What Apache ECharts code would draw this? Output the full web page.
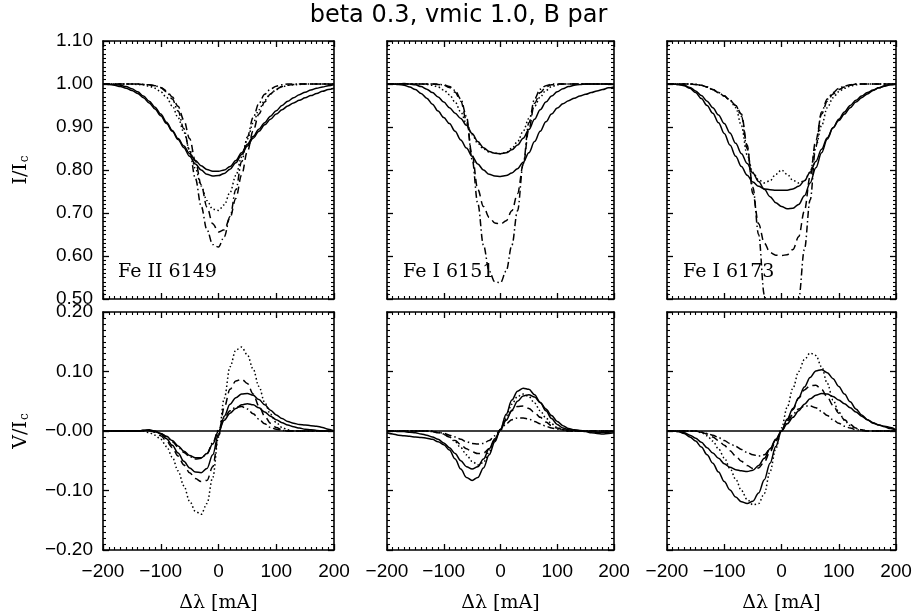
<!DOCTYPE html>
<html>
<head>
<meta charset="utf-8">
<script src="https://cdn.jsdelivr.net/npm/echarts@6/dist/echarts.min.js"></script>
<style>html,body{margin:0;padding:0;background:#fff}#c{width:917px;height:614px}</style>
</head>
<body>
<div id="c"></div>
<script>
// wavelength offsets (mA)
const lam = [-200,-190,-180,-170,-160,-150,-140,-130,-120,-110,-100,-90,-80,-70,-60,-50,-40,-30,-20,-10,0,10,20,30,40,50,60,70,80,90,100,110,120,130,140,150,160,170,180,190,200];

const xTickLabels = ['\u2212200','\u2212100','0','100','200'];
const iTickLabels = ['0.50','0.60','0.70','0.80','0.90','1.00','1.10'];
const vTickLabels = ['\u22120.20','\u22120.10','\u22120.00','0.10','0.20'];
const panelNames = ['Fe II 6149','Fe I 6151','Fe I 6173'];

// ---- Fe II 6149, I/Ic ----
const i6149_s1 = [1.000,1.000,0.999,0.997,0.994,0.989,0.982,0.972,0.960,0.946,0.930,0.911,0.892,0.873,0.856,0.838,0.822,0.810,0.801,0.797,0.797,0.800,0.808,0.822,0.840,0.860,0.878,0.895,0.910,0.925,0.938,0.950,0.960,0.968,0.975,0.981,0.986,0.990,0.993,0.996,0.999];
const i6149_s2 = [1.000,0.999,0.997,0.994,0.990,0.985,0.978,0.968,0.956,0.942,0.926,0.908,0.890,0.871,0.852,0.832,0.814,0.800,0.790,0.786,0.787,0.792,0.802,0.817,0.836,0.856,0.874,0.890,0.905,0.918,0.930,0.940,0.949,0.956,0.962,0.968,0.973,0.978,0.983,0.987,0.990];
const i6149_dot = [1.000,1.000,1.000,1.000,1.000,1.000,0.999,0.998,0.995,0.990,0.982,0.969,0.949,0.922,0.888,0.847,0.804,0.763,0.729,0.709,0.706,0.719,0.748,0.787,0.830,0.872,0.909,0.940,0.962,0.977,0.987,0.993,0.997,0.998,0.999,1.000,1.000,1.000,1.000,1.000,1.000];
const i6149_dash = [1.000,1.000,1.000,1.000,1.000,1.000,1.000,0.999,0.998,0.996,0.992,0.984,0.970,0.948,0.916,0.873,0.821,0.766,0.714,0.675,0.656,0.661,0.689,0.734,0.788,0.843,0.891,0.930,0.958,0.977,0.988,0.994,0.997,0.999,1.000,1.000,1.000,1.000,1.000,1.000,1.000];
const i6149_dd = [1.000,1.000,1.000,1.000,1.000,1.000,1.000,0.999,0.998,0.996,0.991,0.982,0.965,0.937,0.896,0.843,0.780,0.716,0.661,0.627,0.621,0.645,0.692,0.754,0.819,0.877,0.922,0.955,0.976,0.988,0.995,0.998,1.000,1.000,1.000,1.000,1.000,1.000,1.000,1.000,1.000];

// ---- Fe I 6151, I/Ic ----
const i6151_s1 = [1.000,1.000,1.000,1.001,1.000,0.998,0.994,0.988,0.980,0.970,0.958,0.945,0.932,0.920,0.904,0.885,0.866,0.852,0.843,0.839,0.838,0.840,0.847,0.858,0.874,0.894,0.918,0.940,0.958,0.972,0.982,0.989,0.994,0.997,0.999,1.000,1.000,1.000,1.000,1.000,1.000];
const i6151_s2 = [1.000,1.000,0.999,0.997,0.993,0.987,0.978,0.967,0.953,0.937,0.922,0.908,0.890,0.870,0.851,0.832,0.814,0.800,0.790,0.786,0.785,0.787,0.793,0.803,0.818,0.840,0.866,0.890,0.912,0.930,0.944,0.954,0.961,0.967,0.972,0.976,0.980,0.984,0.987,0.991,0.993];
const i6151_dot = [1.000,1.000,1.000,1.000,1.000,1.000,1.000,0.999,0.997,0.993,0.986,0.975,0.958,0.935,0.908,0.882,0.862,0.849,0.842,0.839,0.838,0.841,0.850,0.866,0.890,0.920,0.948,0.970,0.985,0.994,0.998,1.000,1.000,1.000,1.000,1.000,1.000,1.000,1.000,1.000,1.000];
const i6151_dash = [1.000,1.000,1.000,1.000,1.000,1.000,1.000,1.000,1.000,0.999,0.997,0.992,0.981,0.960,0.915,0.835,0.755,0.715,0.690,0.677,0.674,0.682,0.705,0.745,0.812,0.895,0.955,0.980,0.993,0.998,1.000,1.000,1.000,1.000,1.000,1.000,1.000,1.000,1.000,1.000,1.000];
const i6151_dd = [1.000,1.000,1.000,1.000,1.000,1.000,1.000,1.000,1.000,1.000,0.998,0.994,0.985,0.965,0.925,0.825,0.722,0.625,0.565,0.540,0.538,0.565,0.625,0.705,0.814,0.910,0.965,0.988,0.996,1.000,1.000,1.000,1.000,1.000,1.000,1.000,1.000,1.000,1.000,1.000,1.000];

// ---- Fe I 6173, I/Ic ----
const i6173_s1 = [1.000,1.000,0.999,0.996,0.990,0.980,0.966,0.950,0.932,0.910,0.885,0.858,0.832,0.808,0.788,0.772,0.762,0.756,0.754,0.753,0.753,0.753,0.756,0.762,0.775,0.795,0.820,0.848,0.875,0.898,0.918,0.935,0.950,0.962,0.972,0.980,0.986,0.991,0.995,0.998,1.000];
const i6173_s2 = [1.000,1.000,0.999,0.997,0.992,0.984,0.973,0.960,0.945,0.928,0.908,0.886,0.862,0.838,0.815,0.793,0.773,0.755,0.738,0.724,0.715,0.710,0.711,0.720,0.740,0.770,0.805,0.840,0.872,0.898,0.915,0.930,0.945,0.958,0.968,0.977,0.985,0.991,0.996,0.999,1.000];
const i6173_dot = [1.000,1.000,1.000,1.000,1.000,0.999,0.997,0.993,0.987,0.980,0.972,0.963,0.945,0.903,0.835,0.795,0.777,0.770,0.775,0.790,0.800,0.790,0.776,0.770,0.775,0.795,0.855,0.903,0.945,0.968,0.982,0.990,0.995,0.998,1.000,1.000,1.000,1.000,1.000,1.000,1.000];
const i6173_dash = [1.000,1.000,1.000,1.000,1.000,0.999,0.997,0.993,0.987,0.980,0.972,0.962,0.950,0.930,0.858,0.745,0.675,0.630,0.608,0.602,0.601,0.603,0.615,0.645,0.705,0.785,0.870,0.930,0.960,0.977,0.987,0.993,0.997,1.000,1.000,1.000,1.000,1.000,1.000,1.000,1.000];
const i6173_dd = [1.000,1.000,1.000,1.000,1.000,0.999,0.997,0.993,0.987,0.980,0.972,0.962,0.950,0.925,0.850,0.760,0.650,0.510,0.400,0.360,0.350,0.360,0.400,0.500,0.615,0.730,0.855,0.935,0.965,0.980,0.990,0.995,0.998,1.000,1.000,1.000,1.000,1.000,1.000,1.000,1.000];

// ---- Fe II 6149, V/Ic ----
const v6149_s1 = [0,0,0,0,0,0,0,0.001,0.002,0.000,-0.005,-0.013,-0.024,-0.037,-0.051,-0.062,-0.069,-0.070,-0.063,-0.040,-0.005,0.025,0.045,0.056,0.062,0.063,0.060,0.053,0.044,0.035,0.027,0.021,0.016,0.013,0.011,0.010,0.009,0.008,0.006,0.003,0.000];
const v6149_s2 = [0,0,0,0,0,0,0,0.001,0.001,-0.001,-0.004,-0.009,-0.016,-0.025,-0.034,-0.041,-0.045,-0.045,-0.038,-0.022,0.000,0.018,0.030,0.038,0.044,0.046,0.044,0.039,0.032,0.025,0.019,0.014,0.010,0.007,0.005,0.003,0.002,0.001,0,0,0];
const v6149_dot = [0,0,0,0,0,0,0,0,-0.003,-0.007,-0.014,-0.026,-0.044,-0.067,-0.092,-0.118,-0.135,-0.140,-0.122,-0.078,-0.010,0.055,0.108,0.136,0.141,0.128,0.104,0.075,0.048,0.028,0.014,0.006,0.002,0,0,0,0,0,0,0,0];
const v6149_dash = [0,0,0,0,0,0,0,0.001,0.001,-0.002,-0.008,-0.017,-0.028,-0.042,-0.057,-0.070,-0.080,-0.085,-0.083,-0.060,-0.008,0.040,0.070,0.084,0.087,0.080,0.062,0.042,0.025,0.013,0.006,0.002,0,0,0,0,0,0,0,0,0];
const v6149_dd = [0,0,0,0,0,0,0,0.001,0.001,-0.001,-0.004,-0.010,-0.018,-0.027,-0.036,-0.043,-0.047,-0.046,-0.038,-0.020,0.002,0.022,0.034,0.040,0.041,0.037,0.029,0.020,0.012,0.006,0.003,0.001,0,0,0,0,0,0,0,0,0];

// ---- Fe I 6151, V/Ic ----
const v6151_s1 = [-0.003,-0.005,-0.007,-0.008,-0.009,-0.010,-0.011,-0.012,-0.014,-0.018,-0.023,-0.032,-0.047,-0.064,-0.078,-0.083,-0.078,-0.062,-0.040,-0.018,0.003,0.028,0.052,0.067,0.072,0.070,0.061,0.048,0.034,0.021,0.011,0.005,0.002,0.001,0.000,-0.001,-0.003,-0.004,-0.005,-0.004,-0.003];
const v6151_s2 = [0,0,-0.001,-0.001,-0.002,-0.003,-0.005,-0.007,-0.010,-0.014,-0.020,-0.028,-0.038,-0.050,-0.060,-0.064,-0.060,-0.047,-0.030,-0.013,0.002,0.018,0.035,0.050,0.059,0.061,0.057,0.048,0.037,0.026,0.016,0.009,0.004,0.002,0.001,0.000,-0.001,-0.002,-0.002,-0.002,-0.001];
const v6151_dot = [0,0,0,0,0,0,0,0,0,-0.002,-0.005,-0.010,-0.018,-0.028,-0.040,-0.051,-0.057,-0.053,-0.035,-0.015,0.003,0.025,0.045,0.058,0.062,0.058,0.047,0.034,0.022,0.012,0.006,0.002,0,0,0,0,0,0,0,0,0];
const v6151_dash = [0,0,0,0,0,0,0,0,-0.001,-0.003,-0.006,-0.010,-0.016,-0.023,-0.030,-0.035,-0.038,-0.037,-0.030,-0.016,0.002,0.020,0.034,0.041,0.042,0.038,0.031,0.023,0.015,0.009,0.005,0.002,0,0,0,0,0,0,0,0,0];
const v6151_dd = [0,0,0,0,0,0,0,0,-0.001,-0.002,-0.004,-0.007,-0.010,-0.014,-0.018,-0.021,-0.022,-0.021,-0.016,-0.008,0.002,0.012,0.019,0.022,0.022,0.020,0.016,0.012,0.008,0.005,0.003,0.002,0.001,0,0,0,0,0,0,0,0];

// ---- Fe I 6173, V/Ic ----
const v6173_s1 = [0,0,-0.001,-0.004,-0.010,-0.017,-0.027,-0.040,-0.054,-0.069,-0.085,-0.099,-0.111,-0.119,-0.122,-0.118,-0.104,-0.082,-0.054,-0.026,0.000,0.020,0.038,0.056,0.074,0.090,0.101,0.103,0.098,0.088,0.075,0.062,0.049,0.037,0.027,0.019,0.013,0.010,0.008,0.006,0.002];
const v6173_s2 = [0,0,-0.001,-0.003,-0.007,-0.012,-0.019,-0.028,-0.037,-0.046,-0.055,-0.061,-0.065,-0.067,-0.068,-0.066,-0.058,-0.046,-0.030,-0.014,0.000,0.012,0.023,0.034,0.045,0.054,0.060,0.063,0.062,0.058,0.052,0.046,0.039,0.032,0.025,0.019,0.014,0.010,0.007,0.004,0.001];
const v6173_dot = [0,0,0,0,0,0,-0.003,-0.008,-0.017,-0.030,-0.045,-0.063,-0.081,-0.100,-0.115,-0.124,-0.122,-0.105,-0.068,-0.030,0.005,0.040,0.072,0.100,0.120,0.131,0.127,0.108,0.080,0.052,0.032,0.018,0.009,0.004,0.002,0,0,0,0,0,0];
const v6173_dash = [0,0,0,0,0,0,-0.002,-0.005,-0.010,-0.016,-0.024,-0.033,-0.042,-0.051,-0.058,-0.063,-0.062,-0.052,-0.035,-0.017,0.000,0.018,0.036,0.055,0.069,0.076,0.077,0.070,0.057,0.043,0.030,0.019,0.011,0.005,0.002,0,0,0,0,0,0];
const v6173_dd = [0,0,0,0,0,0,-0.002,-0.004,-0.007,-0.011,-0.016,-0.021,-0.026,-0.031,-0.036,-0.040,-0.042,-0.040,-0.030,-0.015,0.000,0.015,0.028,0.037,0.042,0.042,0.039,0.033,0.026,0.019,0.013,0.008,0.005,0.002,0.001,0,0,0,0,0,0];

const panels = [
  [i6149_s1,i6149_s2,i6149_dot,i6149_dash,i6149_dd],
  [i6151_s1,i6151_s2,i6151_dot,i6151_dash,i6151_dd],
  [i6173_s1,i6173_s2,i6173_dot,i6173_dash,i6173_dd],
  [v6149_s1,v6149_s2,v6149_dot,v6149_dash,v6149_dd],
  [v6151_s1,v6151_s2,v6151_dot,v6151_dash,v6151_dd],
  [v6173_s1,v6173_s2,v6173_dot,v6173_dash,v6173_dd]
];

const lineTypes = ['solid','solid',[1.5,2.5],[7,4.5],[7,3,1.5,3]];

const grids = [
  {left:103, top:41, width:231, height:258},
  {left:387, top:41, width:227, height:258},
  {left:667, top:41, width:229, height:258},
  {left:103, top:312, width:231, height:242},
  {left:387, top:312, width:227, height:242},
  {left:667, top:312, width:229, height:242}
];

const sansFont = 'Liberation Sans, Arial, sans-serif';
const serifFont = 'DejaVu Serif, serif';
const blk = '#000';

function baseAxis() {
  return {
    axisLine: {show: true, onZero: false, lineStyle: {color: blk, width: 1.6}},
    axisTick: {show: true, inside: true, length: 6, lineStyle: {color: blk, width: 1.3}},
    minorTick: {show: true, splitNumber: 10, length: 3, lineStyle: {color: blk, width: 1.1}},
    splitLine: {show: false},
    minorSplitLine: {show: false}
  };
}

const xAxes = [], yAxes = [], series = [];
grids.forEach((g, gi) => {
  const bottomRow = gi >= 3;
  const leftCol = gi % 3 === 0;
  xAxes.push(Object.assign(baseAxis(), {
    type: 'value', gridIndex: gi, position: 'bottom', min: -200, max: 200, interval: 100,
    axisLabel: {show: bottomRow, margin: 12, color: blk, fontFamily: sansFont, fontSize: 19,
      formatter: (v) => xTickLabels[Math.round((v + 200) / 100)]},
    name: bottomRow ? '\u0394\u03bb [mA]' : '', nameLocation: 'middle', nameGap: 44,
    nameTextStyle: {color: blk, fontFamily: serifFont, fontSize: 19}
  }));
  xAxes.push(Object.assign(baseAxis(), {
    type: 'value', gridIndex: gi, position: 'top', min: -200, max: 200, interval: 100,
    axisLabel: {show: false}
  }));
  const yMin = bottomRow ? -0.2 : 0.5, yMax = bottomRow ? 0.2 : 1.1;
  const labels = bottomRow ? vTickLabels : iTickLabels;
  yAxes.push(Object.assign(baseAxis(), {
    type: 'value', gridIndex: gi, position: 'left', min: yMin, max: yMax, interval: 0.1,
    axisLabel: {show: leftCol, margin: 10, color: blk, fontFamily: sansFont, fontSize: 19,
      formatter: (v) => labels[Math.round((v - yMin) / 0.1)]},
    name: leftCol ? (bottomRow ? '{a|V/I}{b|c}' : '{a|I/I}{b|c}') : '',
    nameLocation: 'middle', nameGap: 72, nameRotate: 90,
    nameTextStyle: {color: blk, fontFamily: serifFont, fontSize: 19,
      rich: {a: {fontFamily: serifFont, fontSize: 19, color: blk},
             b: {fontFamily: serifFont, fontSize: 12, color: blk, padding: [8, 0, 0, 1]}}}
  }));
  yAxes.push(Object.assign(baseAxis(), {
    type: 'value', gridIndex: gi, position: 'right', min: yMin, max: yMax, interval: 0.1,
    axisLabel: {show: false}
  }));
  panels[gi].forEach((vals, si) => {
    const s = {
      type: 'line', xAxisIndex: 2 * gi, yAxisIndex: 2 * gi,
      data: vals.map((v, k) => [lam[k], v]),
      showSymbol: false, symbol: 'none', smooth: 0.35, smoothMonotone: 'x', clip: true,
      lineStyle: {color: blk, width: 1.5, type: lineTypes[si]},
      silent: true, animation: false
    };
    if (bottomRow && si === 0) {
      s.markLine = {silent: true, symbol: 'none', label: {show: false}, animation: false,
        lineStyle: {color: blk, type: 'solid', width: 1.5}, data: [{yAxis: 0}]};
    }
    series.push(s);
  });
});

const chart = echarts.init(document.getElementById('c'), null, {renderer: 'canvas'});
chart.setOption({
  backgroundColor: '#fff',
  animation: false,
  grid: grids,
  xAxis: xAxes,
  yAxis: yAxes,
  series: series,
  graphic: [
    {type: 'text', left: 'center', top: 4, style: {text: 'beta 0.3, vmic 1.0, B par', fill: blk,
      font: '24px "DejaVu Sans", sans-serif'}},
    {type: 'text', left: 118, top: 263, style: {text: panelNames[0], fill: blk, font: '19px "DejaVu Serif", serif'}},
    {type: 'text', left: 403, top: 263, style: {text: panelNames[1], fill: blk, font: '19px "DejaVu Serif", serif'}},
    {type: 'text', left: 683, top: 263, style: {text: panelNames[2], fill: blk, font: '19px "DejaVu Serif", serif'}}
  ]
});
</script>
</body>
</html>
